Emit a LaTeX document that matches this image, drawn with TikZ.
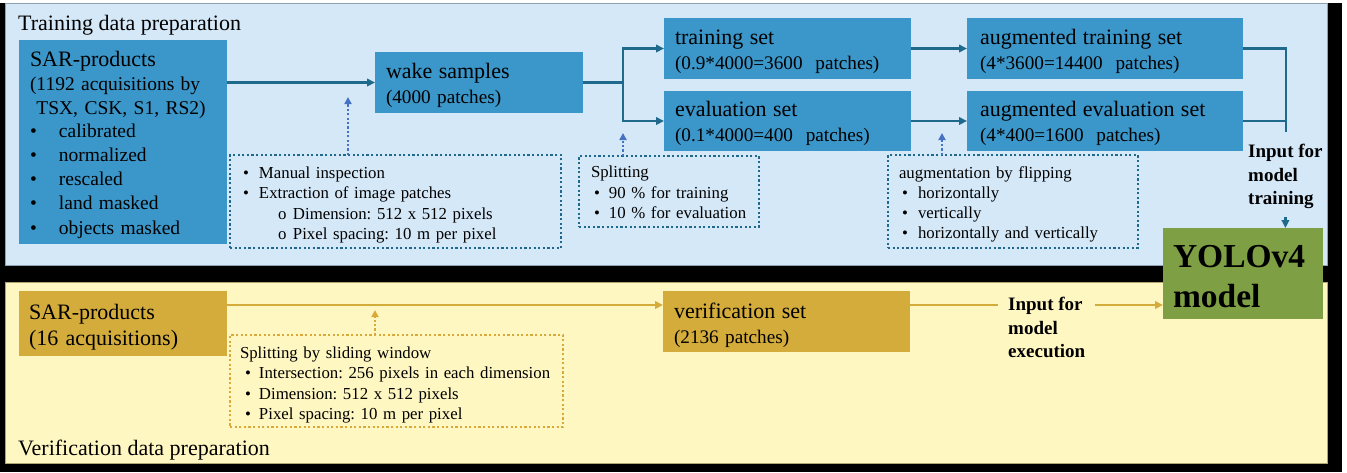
\documentclass[tikz,border=0pt]{standalone}
\usepackage{fontspec}
\setmainfont{Liberation Serif}
\frenchspacing
\usetikzlibrary{arrows.meta}
\definecolor{panelblue}{HTML}{D5E8F8}
\definecolor{panelyellow}{HTML}{FFF7C1}
\definecolor{boxblue}{HTML}{3B96C9}
\definecolor{boxgold}{HTML}{D4AC3C}
\definecolor{boxgreen}{HTML}{7E9F44}
\definecolor{connteal}{HTML}{1E698C}
\definecolor{dotblue}{HTML}{4672C4}
\definecolor{dotgold}{HTML}{D9A93A}
\definecolor{bordergray}{HTML}{8FA0B0}
\definecolor{borderolive}{HTML}{B0A470}
\begin{document}
\begin{tikzpicture}[x=1pt,y=-1pt,
  filledbox/.style={rectangle, draw=none, outer sep=0pt, align=left, anchor=north west, inner ysep=0pt},
  bluebox/.style={filledbox, fill=boxblue, font=\fontsize{19.2}{25}\selectfont, text height=21pt},
  goldbox/.style={filledbox, fill=boxgold, font=\fontsize{19.2}{25}\selectfont, text height=23pt},
  dotbox/.style={rectangle, draw=connteal, line width=2.2pt, dash pattern=on 2.2pt off 2.4pt, outer sep=0pt, align=left, anchor=north west, inner ysep=0pt, font=\fontsize{16.8}{20.2}\selectfont},
  gdotbox/.style={dotbox, draw=dotgold},
  conn/.style={draw=connteal, line width=2.4pt},
  arr/.style={conn, -{Triangle[length=8pt,width=7.5pt]}},
  dotarr/.style={draw=dotblue, line width=2.2pt, dash pattern=on 2.2pt off 2.2pt, -{Triangle[length=7pt,width=7pt]}},
  gconn/.style={draw=boxgold, line width=2.4pt},
  garr/.style={gconn, -{Triangle[length=8pt,width=7.5pt]}},
  gdotarr/.style={draw=dotgold, line width=2.2pt, dash pattern=on 2.2pt off 2.2pt, -{Triangle[length=7pt,width=7pt]}},
  boldlbl/.style={align=left, inner ysep=0pt, font=\bfseries\fontsize{19}{23.5}\selectfont},
  titlelbl/.style={anchor=west, inner sep=0pt, font=\fontsize{22}{26}\selectfont}
]
\useasboundingbox (0,0) rectangle (1347,472);
\fill[white] (0,0) rectangle (1347,472);
\fill[black] (0,3) rectangle (1342,472);
\draw[bordergray, line width=1pt, fill=panelblue] (5,3) rectangle (1327,265);
\draw[borderolive, line width=1pt, fill=panelyellow] (5,282) rectangle (1327,463);

% titles
\node[titlelbl] (title1) at (18,25) {Training data preparation};
\node[titlelbl] (title2) at (18,450) {Verification data preparation};

% training boxes
\node[bluebox, text width=186pt, inner xsep=11pt, minimum height=204pt] (sar1) at (19,40)
 {\fontsize{19.5}{23.7}\selectfont{\fontsize{22}{23.7}\selectfont SAR-products}\\
  (1192 acquisitions by\\
  \ TSX, CSK, S1, RS2)\\
  \makebox[29pt][l]{•}calibrated\\
  \makebox[29pt][l]{•}normalized\\
  \makebox[29pt][l]{•}rescaled\\
  \makebox[29pt][l]{•}land masked\\
  \makebox[29pt][l]{•}objects masked};
\node[bluebox, text width=186pt, inner xsep=11pt, minimum height=61pt] (wake) at (375,52)
 {{\fontsize{22}{25}\selectfont wake samples}\\(4000 patches)};
\node[bluebox, text width=225pt, inner xsep=11pt, minimum height=61pt] (train) at (664,18)
 {{\fontsize{22}{25}\selectfont training set}\\(0.9*4000=3600\ \ patches)};
\node[bluebox, text width=225pt, inner xsep=11pt, minimum height=60pt] (eval) at (664,91)
 {{\fontsize{22}{25}\selectfont evaluation set}\\(0.1*4000=400\ \ patches)};
\node[bluebox, text width=250pt, inner xsep=13pt, minimum height=61pt] (augtrain) at (967,18)
 {{\fontsize{22}{25}\selectfont augmented training set}\\(4*3600=14400\ \ patches)};
\node[bluebox, text width=250pt, inner xsep=13pt, minimum height=60pt] (augeval) at (967,91)
 {{\fontsize{22}{25}\selectfont augmented evaluation set}\\(4*400=1600\ \ patches)};

% dotted annotation boxes
\node[dotbox, text height=18.5pt, text width=305pt, inner xsep=13pt, minimum height=93pt] (d1) at (230,155)
 {\makebox[16pt][l]{•}Manual inspection\\
  \makebox[16pt][l]{•}Extraction of image patches\\
  \hspace*{35pt}\makebox[15pt][l]{o}Dimension: 512 x 512 pixels\\
  \hspace*{35pt}\makebox[15pt][l]{o}Pixel spacing: 10 m per pixel};
\node[dotbox, text height=13.5pt, text width=156pt, inner xsep=12pt, minimum height=71pt] (d2) at (579,156)
 {Splitting\\
  \hspace*{3pt}\makebox[15pt][l]{•}90 \% for training\\
  \hspace*{3pt}\makebox[15pt][l]{•}10 \% for evaluation};
\node[dotbox, text height=17.5pt, text width=228pt, inner xsep=11pt, minimum height=93pt] (d3) at (888,155)
 {augmentation by flipping\\
  \hspace*{3pt}\makebox[16pt][l]{•}horizontally\\
  \hspace*{3pt}\makebox[16pt][l]{•}vertically\\
  \hspace*{3pt}\makebox[16pt][l]{•}horizontally and vertically};

% verification boxes
\node[goldbox, text width=188pt, inner xsep=10pt, minimum height=65pt, font=\fontsize{22}{26}\selectfont] (sar2) at (19,291)
 {SAR-products\\(16 acquisitions)};
\node[goldbox, text width=225pt, inner xsep=11pt, minimum height=61pt] (verif) at (663,291)
 {{\fontsize{22}{25}\selectfont verification set}\\(2136 patches)};
\node[gdotbox, text height=19.5pt, text width=313pt, inner xsep=10pt, minimum height=92pt] (d4) at (230,335)
 {Splitting by sliding window\\
  \hspace*{5pt}\makebox[14pt][l]{•}Intersection: 256 pixels in each dimension\\
  \hspace*{5pt}\makebox[14pt][l]{•}Dimension: 512 x 512 pixels\\
  \hspace*{5pt}\makebox[14pt][l]{•}Pixel spacing: 10 m per pixel};

% model
\node[filledbox, fill=boxgreen, text height=28pt, text width=140pt, inner xsep=10pt, minimum height=91pt,
      font=\bfseries\fontsize{33.5}{40}\selectfont] (yolo) at (1163,228) {YOLOv4\\model};

% labels
\node[boldlbl, anchor=north west, inner xsep=0pt] (inptrain) at (1248,144) {Input for\\model\\training};
\node[boldlbl, anchor=north west, inner xsep=10pt] (inpexec) at (998,297) {Input for\\model\\execution};

% coordinates
\coordinate (split) at (623,82.5);
\coordinate (merge) at (1286,132);
\coordinate (a1) at (348,97);
\coordinate (a2) at (623,133);
\coordinate (a3) at (942,133);
\coordinate (a4) at (375,310);
\coordinate (lv) at (0,305);

% training connectors
\draw[arr] (sar1.east |- wake.west) -- (wake.west);
\draw[conn] (wake.east) -- (split);
\draw[arr] (split) |- (train.west);
\draw[arr] (split) |- (eval.west);
\draw[arr] (train.east) -- (augtrain.west);
\draw[arr] (eval.east) -- (augeval.west);
\draw[conn] (augtrain.east) -| (merge);
\draw[conn] (augeval.east) -- (augeval.east -| merge);
\draw[arr, shorten <=8pt] (inptrain.south) -- (inptrain.south |- yolo.north);

\draw[dotarr] (d1.north -| a1) -- (a1);
\draw[dotarr] (d2.north -| a2) -- (a2);
\draw[dotarr] (d3.north -| a3) -- (a3);

% verification connectors
\draw[garr] (sar2.east |- lv) -- (verif.west |- lv);
\draw[gconn] (verif.east |- lv) -- (inpexec.west |- lv);
\draw[garr] (inpexec.east |- lv) -- (yolo.west |- lv);
\draw[gdotarr] (d4.north -| a4) -- (a4);
\end{tikzpicture}
\end{document}
